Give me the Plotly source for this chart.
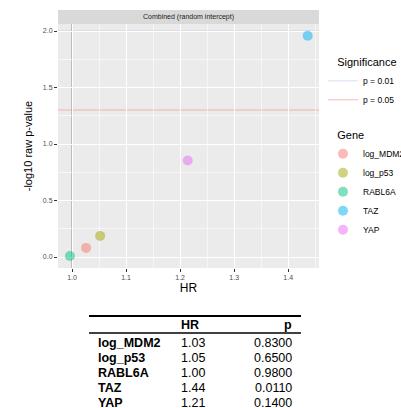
import numpy as np
import plotly.graph_objects as go

# ---- data ----
genes = ["log_MDM2", "log_p53", "RABL6A", "TAZ", "YAP"]
hr = [1.026, 1.052, 0.996, 1.436, 1.214]
pvals = [0.83, 0.65, 0.98, 0.011, 0.14]
colors = ["#F8766D", "#A3A500", "#00BF7D", "#00B0F6", "#E76BF3"]
sig_names = ["p = 0.01", "p = 0.05"]
sig_levels = [0.01, 0.05]
sig_colors = ["rgba(120,120,200,0.25)", "rgba(248,118,109,0.5)"]
table_header = ["HR", "p"]
panel_title = "Combined (random intercept)"

W, H = 401, 408
L, R, T, B = 58, 82, 24, 140
PW, PH = W - L - R, H - T - B


def px_x(px):
    return (px - L) / PW


def px_y(py):
    return (H - B - py) / PH


neglog = [-np.log10(p) for p in pvals]

fig = go.Figure()

for g, x, y, c in zip(genes, hr, neglog, colors):
    fig.add_trace(go.Scatter(
        x=[x], y=[y], mode="markers", name=g, legend="legend2",
        marker=dict(color=c, size=10, opacity=0.5, line=dict(width=0)),
        hoverinfo="skip"))

# reference lines
fig.add_vline(x=1.0, line=dict(color="rgba(150,150,150,0.75)", width=1.5), layer="below")
for nm, lv, col in zip(sig_names, sig_levels, sig_colors):
    fig.add_hline(y=-np.log10(lv), line=dict(color=col, width=1), layer="below",
                  showlegend=True, name=nm, legend="legend")

# strip
fig.add_shape(type="rect", xref="paper", yref="paper", x0=0, x1=1, y0=1, y1=px_y(10),
              fillcolor="#D9D9D9", line=dict(width=0), layer="below")
fig.add_annotation(text=panel_title, xref="paper", yref="paper", x=0.5, y=px_y(17),
                   showarrow=False, font=dict(size=7, color="#1A1A1A"), yanchor="middle")

# table
tfont = "Liberation Sans, Arial"
fig.add_shape(type="line", xref="paper", yref="paper", x0=px_x(89), x1=px_x(301),
              y0=px_y(316), y1=px_y(316), line=dict(color="black", width=2))
fig.add_shape(type="line", xref="paper", yref="paper", x0=px_x(89), x1=px_x(301),
              y0=px_y(333), y1=px_y(333), line=dict(color="black", width=1.5))
fig.add_annotation(text="<b>%s</b>" % table_header[0], xref="paper", yref="paper",
                   x=px_x(179), y=px_y(325), xanchor="left", yanchor="middle", showarrow=False,
                   font=dict(size=12.5, color="black", family=tfont))
fig.add_annotation(text="<b>%s</b>" % table_header[1], xref="paper", yref="paper",
                   x=px_x(294), y=px_y(325), xanchor="right", yanchor="middle", showarrow=False,
                   font=dict(size=12.5, color="black", family=tfont))
row_y0, row_dy = 342.5, 15.2
for i, (g, h, p) in enumerate(zip(genes, hr, pvals)):
    yy = px_y(row_y0 + i * row_dy)
    fig.add_annotation(text="<b>%s</b>" % g, xref="paper", yref="paper", x=px_x(96), y=yy,
                       xanchor="left", yanchor="middle", showarrow=False,
                       font=dict(size=12.5, color="black", family=tfont))
    fig.add_annotation(text="%.2f" % h, xref="paper", yref="paper", x=px_x(179), y=yy,
                       xanchor="left", yanchor="middle", showarrow=False,
                       font=dict(size=12.5, color="black", family=tfont))
    fig.add_annotation(text="%.4f" % p, xref="paper", yref="paper", x=px_x(294), y=yy,
                       xanchor="right", yanchor="middle", showarrow=False,
                       font=dict(size=12.5, color="black", family=tfont))

axis_common = dict(
    showgrid=True, gridcolor="white", gridwidth=1,
    zeroline=False, showline=False,
    ticks="outside", ticklen=3, tickcolor="#333333", tickwidth=1,
    tickfont=dict(size=7, color="#4D4D4D", family=tfont),
    tickformat=".1f",
    minor=dict(showgrid=True, gridcolor="rgba(255,255,255,0.55)", gridwidth=0.5, ticks=""),
)

pad = "&nbsp;" * 4
fig.update_layout(
    width=W, height=H,
    margin=dict(l=L, r=R, t=T, b=B, autoexpand=False),
    paper_bgcolor="white", plot_bgcolor="#EBEBEB",
    font=dict(family=tfont, color="black"),
    xaxis=dict(range=[0.974, 1.457], dtick=0.1, tick0=1.0,
               title=dict(text="HR", font=dict(size=12, color="black"), standoff=3),
               **axis_common),
    yaxis=dict(range=[-0.097, 2.062], dtick=0.5, tick0=0,
               title=dict(text="-log10 raw p-value", font=dict(size=11, color="black"), standoff=8),
               **axis_common),
    legend=dict(x=px_x(323), xanchor="left", y=px_y(52), yanchor="top",
                title=dict(text=pad + "Significance", font=dict(size=11)),
                font=dict(size=8.5), bgcolor="rgba(0,0,0,0)", itemwidth=30),
    legend2=dict(x=px_x(323), xanchor="left", y=px_y(125), yanchor="top",
                 title=dict(text=pad + "Gene", font=dict(size=11)),
                 font=dict(size=8.5), bgcolor="rgba(0,0,0,0)", itemwidth=30),
    showlegend=True,
)
fig.update_xaxes(minor=dict(dtick=0.05, tick0=1.0))
fig.update_yaxes(minor=dict(dtick=0.25, tick0=0))

fig.write_html("out.html")
